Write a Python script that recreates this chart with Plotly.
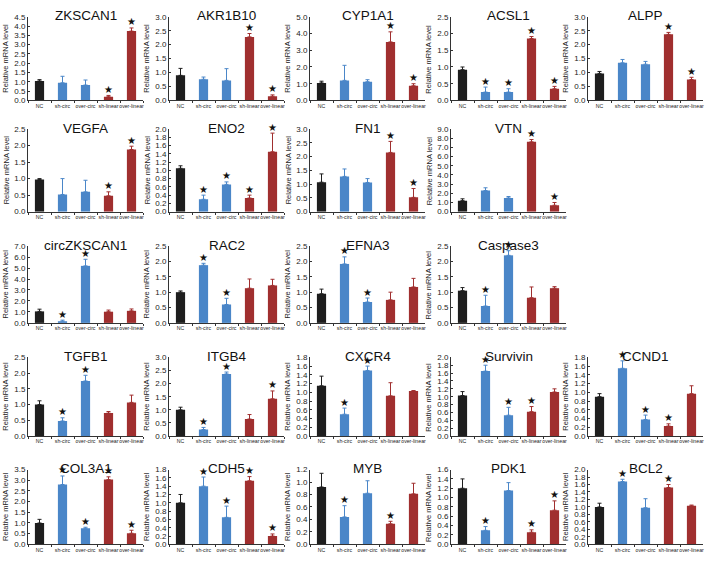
import plotly.graph_objects as go

CATS = ["NC", "sh-circ", "over-circ", "sh-linear", "over-linear"]
GENES = ["ZKSCAN1", "AKR1B10", "CYP1A1", "ACSL1", "ALPP",
         "VEGFA", "ENO2", "FN1", "VTN",
         "circZKSCAN1", "RAC2", "EFNA3", "Caspase3",
         "TGFB1", "ITGB4", "CXCR4", "Survivin", "CCND1",
         "COL3A1", "CDH5", "MYB", "PDK1", "BCL2"]
ROWS = [0, 0, 0, 0, 0, 1, 1, 1, 1, 2, 2, 2, 2, 3, 3, 3, 3, 3, 4, 4, 4, 4, 4]
COLS = [0, 1, 2, 3, 4, 0, 1, 2, 3, 0, 1, 2, 3, 0, 1, 2, 3, 4, 0, 1, 2, 3, 4]
MEANS = [
    [1.05, 0.95, 0.83, 0.20, 3.73],
    [0.90, 0.76, 0.72, 2.28, 0.15],
    [1.05, 1.20, 1.12, 3.50, 0.88],
    [0.92, 0.25, 0.25, 1.85, 0.35],
    [0.97, 1.35, 1.30, 2.37, 0.75],
    [0.97, 0.52, 0.60, 0.48, 1.88],
    [1.05, 0.30, 0.66, 0.33, 1.45],
    [1.07, 1.28, 1.06, 2.15, 0.52],
    [1.20, 2.30, 1.50, 7.60, 0.70],
    [1.05, 0.15, 5.20, 1.02, 1.10],
    [1.00, 1.88, 0.60, 1.13, 1.22],
    [0.95, 1.92, 0.68, 0.75, 1.17],
    [1.05, 0.55, 2.20, 0.82, 1.13],
    [1.00, 0.48, 1.75, 0.73, 1.07],
    [1.00, 0.25, 2.37, 0.65, 1.42],
    [1.15, 0.50, 1.50, 0.92, 1.03],
    [1.03, 1.65, 0.53, 0.62, 1.12],
    [0.90, 1.55, 0.38, 0.23, 0.97],
    [1.00, 2.80, 0.75, 3.03, 0.52],
    [1.00, 1.40, 0.65, 1.53, 0.20],
    [0.92, 0.44, 0.82, 0.33, 0.81],
    [1.20, 0.30, 1.15, 0.26, 0.73],
    [1.00, 1.68, 0.98, 1.52, 1.03],
]
ERRS = [
    [0.07, 0.35, 0.27, 0.07, 0.17],
    [0.25, 0.08, 0.42, 0.12, 0.05],
    [0.10, 0.90, 0.12, 0.60, 0.12],
    [0.08, 0.15, 0.10, 0.06, 0.07],
    [0.07, 0.12, 0.10, 0.07, 0.08],
    [0.03, 0.48, 0.35, 0.12, 0.10],
    [0.06, 0.10, 0.06, 0.07, 0.45],
    [0.30, 0.27, 0.14, 0.40, 0.32],
    [0.20, 0.30, 0.15, 0.25, 0.30],
    [0.20, 0.10, 0.60, 0.15, 0.17],
    [0.04, 0.06, 0.20, 0.30, 0.20],
    [0.15, 0.23, 0.13, 0.25, 0.28],
    [0.10, 0.35, 0.15, 0.35, 0.05],
    [0.12, 0.10, 0.18, 0.05, 0.23],
    [0.10, 0.08, 0.07, 0.17, 0.30],
    [0.22, 0.14, 0.10, 0.30, 0.01],
    [0.10, 0.15, 0.20, 0.13, 0.08],
    [0.07, 0.17, 0.10, 0.05, 0.18],
    [0.17, 0.40, 0.05, 0.13, 0.14],
    [0.20, 0.22, 0.27, 0.10, 0.05],
    [0.22, 0.18, 0.20, 0.04, 0.17],
    [0.20, 0.08, 0.17, 0.05, 0.20],
    [0.10, 0.06, 0.24, 0.08, 0.02],
]
SIG = [
    [0, 0, 0, 1, 1], [0, 0, 0, 1, 1], [0, 0, 0, 1, 1], [0, 1, 1, 1, 1], [0, 0, 0, 1, 1],
    [0, 0, 0, 1, 1], [0, 1, 1, 1, 1], [0, 0, 0, 1, 1], [0, 0, 0, 1, 1],
    [0, 1, 1, 0, 0], [0, 1, 1, 0, 0], [0, 1, 1, 0, 0], [0, 1, 1, 0, 0],
    [0, 1, 1, 0, 0], [0, 1, 1, 0, 1], [0, 1, 1, 0, 0], [0, 1, 1, 1, 0], [0, 1, 1, 1, 0],
    [0, 1, 1, 1, 1], [0, 1, 1, 1, 1], [0, 1, 0, 1, 0], [0, 1, 0, 1, 1], [0, 1, 0, 1, 0],
]
YMAX = [4.5, 3.0, 5.0, 2.5, 3.0,
        2.5, 2.0, 3.0, 9.0,
        7.0, 2.5, 2.5, 2.5,
        2.5, 3.0, 1.8, 2.0, 1.8,
        3.5, 1.8, 1.2, 1.6, 2.0]
YSTEP = [0.5, 0.5, 1.0, 0.5, 0.5,
         0.5, 0.2, 0.5, 1.0,
         1.0, 0.5, 0.5, 0.5,
         0.5, 0.5, 0.2, 0.2, 0.2,
         0.5, 0.2, 0.2, 0.2, 0.2]

GROUPS = [([0], "#1e1e1e"), ([1, 2], "#4a86c8"), ([3, 4], "#a02f2f")]

W, H = 709, 571
COL_X = [28, 169, 310, 451, 588]
PW = 115
ROW_TOP = [13, 127, 246, 359, 473]
ROW_ZERO = [98, 211, 324, 439, 549]

fig = go.Figure()
annotations = []
layout = {}
for i, g in enumerate(GENES):
    r, c = ROWS[i], COLS[i]
    x0 = COL_X[c]
    x1 = x0 + PW
    yt, yz = ROW_TOP[r], ROW_ZERO[r]
    n = i + 1
    xa = "x" if n == 1 else f"x{n}"
    ya = "y" if n == 1 else f"y{n}"
    for idx, col in GROUPS:
        fig.add_trace(go.Bar(
            x=[CATS[k] for k in idx], y=[MEANS[i][k] for k in idx],
            marker=dict(color=col, line=dict(width=0)), width=0.4,
            error_y=dict(type="data", array=[ERRS[i][k] for k in idx],
                         arrayminus=[0] * len(idx), symmetric=False,
                         color=col, thickness=1, width=2),
            xaxis=xa, yaxis=ya, showlegend=False))
    sx = [CATS[k] for k in range(5) if SIG[i][k]]
    sy = [MEANS[i][k] + ERRS[i][k] for k in range(5) if SIG[i][k]]
    fig.add_trace(go.Scatter(
        x=sx, y=sy, mode="text", text=["★"] * len(sx), textposition="top center",
        textfont=dict(size=10, color="#111111", family="DejaVu Sans"),
        xaxis=xa, yaxis=ya, showlegend=False, cliponaxis=False))
    kx = "xaxis" if n == 1 else f"xaxis{n}"
    ky = "yaxis" if n == 1 else f"yaxis{n}"
    layout[kx] = dict(domain=[x0 / W, x1 / W], anchor=ya, type="category",
                      categoryorder="array", categoryarray=CATS, range=[-0.5, 4.5],
                      showline=True, linecolor="#333333", linewidth=1,
                      ticks="outside", tickson="boundaries", ticklen=2,
                      tickangle=0, automargin=False,
                      tickcolor="#333333", tickfont=dict(size=5.2, color="#222222",
                                                         family="Liberation Sans"),
                      showgrid=False, zeroline=False, fixedrange=True)
    layout[ky] = dict(domain=[1 - yz / H, 1 - yt / H], anchor=xa,
                      range=[0, YMAX[i]], dtick=YSTEP[i], tick0=0, tickformat=".1f",
                      showline=True, linecolor="#333333", linewidth=1,
                      ticks="inside", ticklen=2, tickcolor="#333333",
                      tickfont=dict(size=8, color="#222222", family="Liberation Sans"),
                      showgrid=False, zeroline=False, fixedrange=True)
    annotations.append(dict(x=(x0 + x1) / 2 / W, y=1 - (yt - 1) / H, xref="paper",
                            yref="paper", text=g, showarrow=False, xanchor="center",
                            yanchor="middle",
                            font=dict(size=13.5, color="#111111", family="Liberation Sans")))
    annotations.append(dict(x=(x0 - 22) / W, y=1 - (yt + yz) / 2 / H, xref="paper",
                            yref="paper", text="Relative mRNA level", showarrow=False,
                            textangle=-90, xanchor="center", yanchor="middle",
                            font=dict(size=7.5, color="#222222", family="Liberation Sans")))

fig.update_layout(width=W, height=H, margin=dict(l=0, r=0, t=0, b=0),
                  paper_bgcolor="white", plot_bgcolor="white", barmode="overlay",
                  hovermode=False, annotations=annotations, **layout)
fig.write_html("out.html", config={"displayModeBar": False, "staticPlot": True},
               post_script="document.body.style.margin='0';document.body.style.overflow='hidden';")
